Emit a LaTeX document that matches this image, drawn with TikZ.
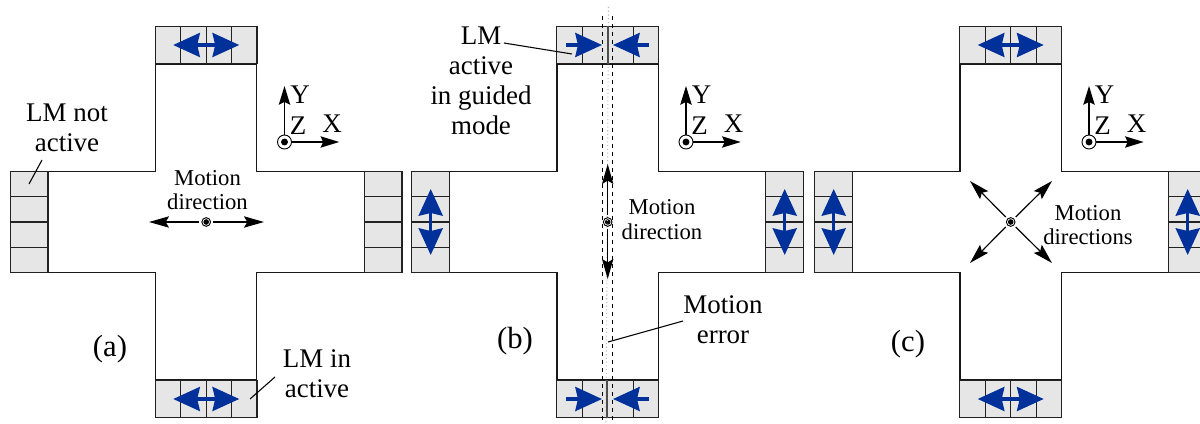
\documentclass[tikz,border=0pt]{standalone}
\usepackage{fontspec}
\setmainfont{Liberation Serif}
\usepackage{xcolor}
\definecolor{cellgray}{HTML}{E6E6E6}
\definecolor{edgegray}{HTML}{222222}
\definecolor{lmblue}{HTML}{00309A}
\usepackage{tikz}
\usetikzlibrary{arrows.meta}

\begin{document}
\begin{tikzpicture}[
  x=0.75pt,y=-0.75pt,
  font=\fontsize{17}{18.5}\selectfont,
  big/.style={font=\fontsize{20.2}{22.5}\selectfont,align=center,inner sep=0pt},
  caption/.style={font=\fontsize{23}{25}\selectfont,inner sep=0pt},
  small/.style={align=center,inner sep=0pt},
  hcell/.style={draw=edgegray,fill=cellgray,inner sep=0pt,line width=0.8pt,
    minimum width=19pt,minimum height=28.2pt},
  vcell/.style={draw=edgegray,fill=cellgray,inner sep=0pt,line width=0.8pt,
    minimum width=28.2pt,minimum height=19pt},
  stage/.style={draw=black!90,line width=0.8pt},
  lead/.style={black,line width=0.8pt},
  arr/.style={black,line width=0.9pt,-{Stealth[length=15pt,width=8.5pt,inset=2.5pt]}},
  axis/.style={black,line width=1pt,-{Stealth[length=14pt,width=8.5pt,inset=2pt]}},
  bluearr/.style={lmblue,line width=2.4pt,-{Stealth[length=20pt,width=18pt,inset=2pt]}},
  bluedbl/.style={lmblue,line width=2.4pt,
    {Stealth[length=20pt,width=18pt,inset=2pt]}-{Stealth[length=20pt,width=18pt,inset=2pt]}},
  ring/.style={circle,draw=black,fill=white,inner sep=0pt,line width=0.7pt},
  dot/.style={circle,fill=black,inner sep=0pt},
]
  \clip (0,0) rectangle (1200,424);
  % Crosses with their four motor blocks
  \foreach \p/\ox in {a/206.2,b/607.7,c/1010.7}{
    \begin{scope}[shift={(\ox,222)}]
      \draw[stage] (-50.7,-158) -- (-50.7,-50.5) -- (-158,-50.5) -- (-158,50.5)
        -- (-50.7,50.5) -- (-50.7,158) -- (50.7,158) -- (50.7,50.5) -- (158,50.5)
        -- (158,-50.5) -- (50.7,-50.5) -- (50.7,-158) -- cycle;
      \foreach \i/\d in {1/-38.1,2/-12.7,3/12.7,4/38.1}{
        \node[hcell] (\p t\i) at (\d,-177) {};
        \node[hcell] (\p b\i) at (\d,177) {};
        \node[vcell] (\p l\i) at (-177,\d) {};
        \node[vcell] (\p r\i) at (177,\d) {};
      }
      \coordinate (\p tl) at (-33,-177); \coordinate (\p tr) at (33,-177);
      \coordinate (\p bl) at (-33,177);  \coordinate (\p br) at (33,177);
      \coordinate (\p lu) at (-177,-33); \coordinate (\p ld) at (-177,33);
      \coordinate (\p ru) at (177,-33);  \coordinate (\p rd) at (177,33);
      % Centre mark
      \node[ring,minimum size=6.5pt,outer sep=2pt] (\p0) at (0,0) {};
      \node[dot,minimum size=4.2pt] (\p0d) at (0,0) {};
      % Axes
      \node[ring,minimum size=10.5pt] (\p org) at (78.3,-80) {};
      \node[dot,minimum size=5.2pt] (\p orgd) at (78.3,-80) {};
      \coordinate (\p yend) at (78.3,-136);
      \coordinate (\p xend) at (133,-80);
      \draw[axis] (\p org) -- (\p yend);
      \draw[axis] (\p org) -- (\p xend);
      \node[big] (\p ylab) at (94,-127) {Y};
      \node[big] (\p zlab) at (92,-96) {Z};
      \node[big] (\p xlab) at (126,-98) {X};
    \end{scope}
  }
  % Panel a
  \draw[bluedbl] (atl) -- (atr);
  \draw[bluedbl] (abl) -- (abr);
  \coordinate (aw) at (149,222); \coordinate (ae) at (264,222);
  \draw[arr] (a0) -- (aw);
  \draw[arr] (a0) -- (ae);
  \node[small] (amot) at (207.5,190) {Motion\\direction};
  \node[big] (anot) at (67,127.5) {LM not\\active};
  \node[big] (ain) at (317,374) {LM in\\active};
  \node[caption] (acap) at (110,349) {(a)};
  \coordinate (anotp) at (29,184); \coordinate (ainp) at (250,399);
  \coordinate (anots) at (42,160); \coordinate (ains) at (275,377);
  \draw[lead] (anots) -- (anotp);
  \draw[lead] (ains) -- (ainp);
  % Panel b
  \draw[gray!55,dotted,line width=0.8pt] (608.5,7) -- (606,424);
  \draw[black,dashed,line width=0.7pt] (602.5,16) -- (602.5,424);
  \draw[black,dashed,line width=0.7pt] (612.5,16) -- (612.5,424);
  \draw[edgegray!80,line width=1.5pt] (607.7,26.5) -- (607.7,64);
  \draw[edgegray!80,line width=1.5pt] (606.7,380) -- (606.7,418);
  \draw[bluedbl] (blu) -- (bld);
  \draw[bluedbl] (bru) -- (brd);
  \coordinate (gtl) at (566,45);  \coordinate (gtli) at (602,45);
  \coordinate (gtr) at (649,45);  \coordinate (gtri) at (613,45);
  \coordinate (gbl) at (566,399); \coordinate (gbli) at (602,399);
  \coordinate (gbr) at (649,399); \coordinate (gbri) at (613,399);
  \draw[bluearr] (gtl) -- (gtli);
  \draw[bluearr] (gtr) -- (gtri);
  \draw[bluearr] (gbl) -- (gbli);
  \draw[bluearr] (gbr) -- (gbri);
  \coordinate (bn) at (607.7,164); \coordinate (bs) at (607.7,279);
  \draw[arr] (b0) -- (bn);
  \draw[arr] (b0) -- (bs);
  \node[small] (bmot) at (662,219.5) {Motion\\direction};
  \node[big] (blm) at (481,81) {LM\\active\\in guided\\mode};
  \node[big] (berr) at (723,320) {Motion\\error};
  \node[caption] (bcap) at (515,341) {(b)};
  \coordinate (blms) at (504,43); \coordinate (blmp) at (572,54);
  \coordinate (berrs) at (683,321); \coordinate (berrp) at (608,342);
  \draw[lead] (blms) -- (blmp);
  \draw[lead] (berrs) -- (berrp);
  % Panel c
  \draw[bluedbl] (ctl) -- (ctr);
  \draw[bluedbl] (cbl) -- (cbr);
  \draw[bluedbl] (clu) -- (cld);
  \draw[bluedbl] (cru) -- (crd);
  \coordinate (cnw) at (970,181); \coordinate (cne) at (1052,181);
  \coordinate (csw) at (970,263); \coordinate (cse) at (1052,263);
  \draw[arr] (c0) -- (cnw);
  \draw[arr] (c0) -- (cne);
  \draw[arr] (c0) -- (csw);
  \draw[arr] (c0) -- (cse);
  \node[small] (cmot) at (1088,225) {Motion\\directions};
  \node[caption] (ccap) at (908,344) {(c)};
\end{tikzpicture}
\end{document}
